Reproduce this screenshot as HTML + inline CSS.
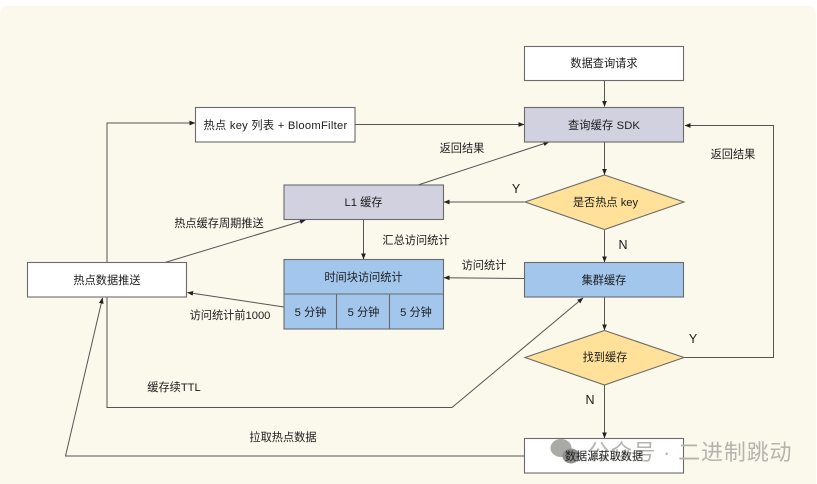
<!DOCTYPE html>
<html><head><meta charset="utf-8">
<style>
html,body{margin:0;padding:0;background:#fff;width:817px;height:484px;overflow:hidden}
svg{display:block}
text{font-family:"Liberation Sans","Noto Sans CJK SC",sans-serif;font-size:11.2px;fill:#1c1c1c}
.m{text-anchor:middle}
.yn{font-size:12.5px}
.b{stroke:#6b6b6b;stroke-width:1.1}
.l{stroke:#555;stroke-width:1;fill:none}
</style></head><body>
<svg width="817" height="484" viewBox="0 0 817 484" xmlns="http://www.w3.org/2000/svg">
<defs>
<marker id="a" viewBox="0 0 6 6" refX="5.6" refY="3" markerWidth="6" markerHeight="6" markerUnits="userSpaceOnUse" orient="auto"><path d="M0 0.6L6 3L0 5.4z" fill="#222"/></marker>
</defs>
<path d="M0 484V14Q0 6 8 6H808Q816 6 816 14V484z" fill="#fbf8ec"/>

<!-- connectors -->
<path class="l" marker-end="url(#a)" d="M604.5 80.5V106.5"/>
<path class="l" marker-end="url(#a)" d="M604.5 142V174.5"/>
<path class="l" marker-end="url(#a)" d="M525 202H444"/>
<path class="l" marker-end="url(#a)" d="M418 185L549 142"/>
<path class="l" marker-end="url(#a)" d="M604.5 229.5V262"/>
<path class="l" marker-end="url(#a)" d="M524.5 278.5L444 277.7"/>
<path class="l" marker-end="url(#a)" d="M363.5 219.5V259"/>
<path class="l" marker-end="url(#a)" d="M284 307L187.500 292.500"/>
<path class="l" marker-end="url(#a)" d="M165 262.500L305.500 220"/>
<path class="l" marker-end="url(#a)" d="M107 262.500V123H195"/>
<path class="l" marker-end="url(#a)" d="M355 124.500H524"/>
<path class="l" marker-end="url(#a)" d="M684 357.500H773.500V125.500H685"/>
<path class="l" marker-end="url(#a)" d="M604.500 297V330"/>
<path class="l" marker-end="url(#a)" d="M604.500 385V438"/>
<path class="l" marker-end="url(#a)" d="M107 297V407.500H452L583 298"/>
<path class="l" marker-end="url(#a)" d="M524.500 456H65.500L102.500 298"/>

<!-- boxes -->
<rect class="b" x="524.500" y="46.500" width="159" height="34" fill="#fff"/>
<rect class="b" x="524.500" y="107.500" width="159" height="34.500" fill="#d1d1e0"/>
<rect class="b" x="195.500" y="107.500" width="159.500" height="34.500" fill="#fff"/>
<rect class="b" x="284" y="185" width="159.500" height="34.500" fill="#d1d1e0"/>
<path class="b" d="M604.500 175L684 202L604.500 229.500L525 202z" fill="#ffe199"/>
<rect class="b" x="524.500" y="262.500" width="159" height="34.500" fill="#a3c6ec"/>
<rect class="b" x="284" y="259.500" width="159.500" height="69.500" fill="#a3c6ec"/>
<path class="b" d="M284 294H443.500M336.500 294V329M389.500 294V329" fill="none"/>
<rect class="b" x="27.500" y="262.500" width="159" height="34.500" fill="#fff"/>
<path class="b" d="M604.500 330.500L684 357.500L604.500 385L525 357.500z" fill="#ffe199"/>
<rect class="b" x="524.500" y="438.500" width="159" height="34.500" fill="#fff"/>

<!-- watermark -->
<ellipse cx="561" cy="448" rx="10.500" ry="9" fill="#a9a9a5"/>
<ellipse cx="571" cy="456" rx="8.500" ry="7.500" fill="#8f8f8c"/>
<text x="587.500" y="460" style="font-size:22px;fill:#b4b4ae;letter-spacing:.85px">公众号 · 二进制跳动</text>

<!-- labels -->
<text class="m" x="604" y="67">数据查询请求</text>
<text class="m" x="604" y="129" style="letter-spacing:.15px">查询缓存 SDK</text>
<text class="m" x="275.500" y="129" style="letter-spacing:.27px">热点 key 列表 + BloomFilter</text>
<text class="m" x="363.500" y="206">L1 缓存</text>
<text class="m" x="605.500" y="206">是否热点 key</text>
<text class="m" x="604" y="284">集群缓存</text>
<text class="m" x="363.500" y="281">时间块访问统计</text>
<text class="m" x="310.500" y="316">5 分钟</text>
<text class="m" x="363.500" y="316">5 分钟</text>
<text class="m" x="416" y="316">5 分钟</text>
<text class="m" x="107" y="284">热点数据推送</text>
<text class="m" x="605" y="361">找到缓存</text>
<text class="m" x="604" y="460">数据源获取数据</text>

<text class="m" x="462" y="152">返回结果</text>
<text class="m" x="733" y="158">返回结果</text>
<text class="m yn" x="516" y="193">Y</text>
<text class="m yn" x="623" y="249">N</text>
<text class="m yn" x="693" y="343">Y</text>
<text class="m yn" x="590" y="404">N</text>
<text class="m" x="219" y="227">热点缓存周期推送</text>
<text class="m" x="416" y="244">汇总访问统计</text>
<text class="m" x="484" y="269">访问统计</text>
<text class="m" x="230" y="319">访问统计前1000</text>
<text class="m" x="174" y="391">缓存续TTL</text>
<text class="m" x="283" y="441">拉取热点数据</text>
</svg>
</body></html>
